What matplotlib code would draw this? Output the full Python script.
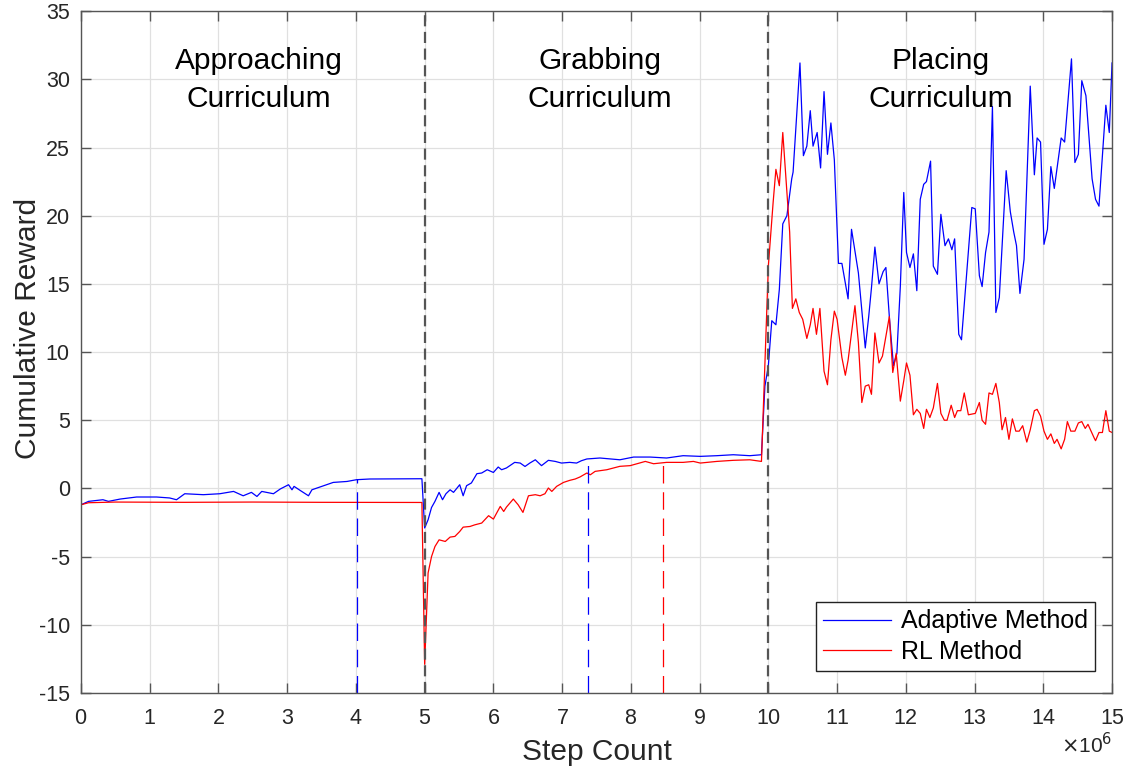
import matplotlib
matplotlib.use("Agg")
import matplotlib.pyplot as plt
from matplotlib.ticker import ScalarFormatter

plt.rcParams['font.family'] = ['Liberation Sans', 'DejaVu Sans']
plt.rcParams['axes.unicode_minus'] = False

# step counts in millions, rewards
adaptive_x = [0.0, 0.11, 0.32, 0.40, 0.57, 0.81, 1.10, 1.29, 1.39, 1.51, 1.78, 2.02, 2.22, 2.36,
              2.48, 2.56, 2.63, 2.80, 2.90, 3.02, 3.07, 3.10, 3.19, 3.31, 3.36, 3.53, 3.67, 3.87,
              4.01, 4.20, 4.96,
              5.00, 5.05, 5.10, 5.15, 5.21, 5.26, 5.31, 5.37, 5.42, 5.51, 5.56, 5.61, 5.68, 5.76,
              5.83, 5.91, 6.00, 6.07, 6.12, 6.19, 6.31, 6.39, 6.46, 6.53, 6.61, 6.70, 6.80, 6.90,
              6.99, 7.11, 7.21, 7.28, 7.36, 7.55, 7.70, 7.84, 8.04, 8.28, 8.52, 8.76, 9.01, 9.25,
              9.49, 9.73, 9.90,
              9.95, 10.00, 10.05, 10.11, 10.16, 10.21, 10.27, 10.34, 10.36, 10.46, 10.51, 10.56,
              10.61, 10.65, 10.71, 10.76, 10.81, 10.86, 10.91, 10.96, 11.02, 11.07, 11.16, 11.21,
              11.31, 11.41, 11.46, 11.50, 11.55, 11.61, 11.67, 11.71, 11.76, 11.82, 11.87, 11.92,
              11.97, 12.01, 12.06, 12.11, 12.16, 12.21, 12.26, 12.30, 12.36, 12.40, 12.46, 12.51,
              12.57, 12.62, 12.67, 12.71, 12.77, 12.81, 12.96, 13.01, 13.07, 13.11, 13.16, 13.21,
              13.26, 13.31, 13.36, 13.46, 13.52, 13.57, 13.61, 13.66, 13.72, 13.81, 13.87, 13.91,
              13.96, 14.01, 14.06, 14.11, 14.16, 14.26, 14.31, 14.41, 14.46, 14.51, 14.56, 14.62,
              14.71, 14.76, 14.81, 14.91, 14.96, 15.00]
adaptive_y = [-1.2, -0.95, -0.83, -0.95, -0.78, -0.63, -0.63, -0.70, -0.83, -0.39, -0.46, -0.39,
              -0.22, -0.54, -0.29, -0.59, -0.22, -0.39, -0.04, 0.27, -0.10, 0.15, -0.15, -0.54,
              -0.10, 0.20, 0.44, 0.51, 0.64, 0.69, 0.71,
              -2.9, -2.3, -1.4, -0.95, -0.29, -0.83, -0.39, -0.10, -0.29, 0.27, -0.54, 0.20, 0.40,
              1.08, 1.13, 1.37, 1.17, 1.57, 1.37, 1.50, 1.91, 1.86, 1.61, 1.86, 2.10, 1.67, 2.06,
              1.98, 1.86, 1.91, 1.86, 2.03, 2.16, 2.23, 2.16, 2.10, 2.30, 2.30, 2.23, 2.40, 2.35,
              2.40, 2.47, 2.40, 2.47,
              7.5, 9.0, 12.3, 12.0, 14.6, 19.4, 20.0, 22.7, 23.2, 31.2, 24.4, 25.1, 27.7, 25.1,
              26.1, 23.5, 29.1, 24.5, 26.8, 24.1, 16.5, 16.5, 13.9, 19.0, 15.8, 10.3, 12.6, 14.7,
              17.7, 15.0, 15.9, 16.2, 12.6, 9.0, 9.9, 14.8, 21.7, 17.3, 16.2, 17.2, 14.5, 21.2,
              22.3, 22.5, 24.0, 16.3, 15.7, 20.1, 17.8, 18.3, 17.5, 18.3, 11.3, 10.9, 20.6, 20.5,
              15.6, 14.8, 17.3, 18.8, 28.0, 12.9, 14.0, 23.3, 20.3, 18.8, 17.8, 14.3, 16.8, 29.5,
              23.0, 25.7, 25.4, 17.9, 19.0, 23.6, 22.0, 25.7, 25.4, 31.5, 23.9, 24.5, 29.9, 28.8,
              22.7, 21.2, 20.7, 28.1, 26.1, 31.2]

rl_x = [0.0, 0.11, 0.5, 1.5, 2.5, 3.5, 4.5, 4.96,
        5.00, 5.05, 5.10, 5.15, 5.21, 5.30, 5.37, 5.44, 5.51, 5.56, 5.66, 5.73, 5.83, 5.93, 6.00,
        6.10, 6.15, 6.19, 6.29, 6.36, 6.43, 6.51, 6.61, 6.68, 6.75, 6.80, 6.85, 6.92, 7.02, 7.11,
        7.19, 7.26, 7.36, 7.41, 7.48, 7.65, 7.84, 7.99, 8.09, 8.21, 8.33, 8.52, 8.76, 8.91, 9.01,
        9.25, 9.49, 9.73, 9.90,
        10.00, 10.07, 10.11, 10.16, 10.21, 10.31, 10.35, 10.40, 10.45, 10.50, 10.56, 10.61,
        10.65, 10.70, 10.75, 10.81, 10.86, 10.91, 10.96, 11.00, 11.07, 11.12, 11.16, 11.26,
        11.31, 11.36, 11.41, 11.46, 11.50, 11.55, 11.61, 11.66, 11.76, 11.81, 11.86, 11.92,
        11.97, 12.01, 12.06, 12.11, 12.16, 12.21, 12.26, 12.30, 12.35, 12.40, 12.46, 12.51,
        12.56, 12.60, 12.66, 12.71, 12.75, 12.80, 12.85, 12.91, 13.01, 13.07, 13.11, 13.16,
        13.21, 13.26, 13.31, 13.36, 13.40, 13.45, 13.50, 13.55, 13.60, 13.65, 13.70, 13.76,
        13.81, 13.87, 13.91, 13.96, 14.01, 14.06, 14.11, 14.16, 14.20, 14.26, 14.31, 14.35,
        14.40, 14.46, 14.51, 14.56, 14.61, 14.65, 14.74, 14.76, 14.81, 14.86, 14.91, 14.96, 15.00]
rl_y = [-1.2, -1.05, -1.0, -1.02, -1.0, -1.02, -1.03, -1.03,
        -12.9, -6.2, -5.0, -4.26, -3.77, -3.89, -3.57, -3.52, -3.16, -2.84, -2.79, -2.67, -2.54,
        -2.0, -2.25, -1.32, -1.69, -1.37, -0.78, -1.2, -1.76, -0.54, -0.46, -0.54, -0.39, 0.03,
        -0.22, 0.15, 0.44, 0.59, 0.69, 0.84, 1.13, 1.0, 1.25, 1.37, 1.62, 1.67, 1.81, 1.98,
        1.81, 1.91, 1.91, 1.98, 1.86, 1.98, 2.06, 2.10, 1.98,
        16.3, 21.0, 23.4, 22.2, 26.1, 18.8, 13.2, 13.9, 12.9, 12.4, 11.0, 12.0, 13.2, 11.3,
        13.2, 8.6, 7.6, 10.9, 13.0, 12.4, 9.6, 8.3, 9.4, 13.4, 10.7, 6.3, 7.5, 7.6, 6.9, 11.4,
        9.2, 9.7, 12.6, 8.5, 9.9, 6.4, 7.9, 9.2, 8.3, 5.4, 5.8, 5.5, 4.4, 5.8, 5.2, 5.9, 7.7,
        5.5, 5.0, 5.0, 6.1, 5.2, 5.7, 5.7, 7.0, 5.4, 5.5, 6.3, 5.0, 4.7, 7.0, 6.9, 7.7, 6.3,
        4.3, 5.2, 3.6, 5.1, 4.2, 4.2, 4.6, 3.4, 4.3, 5.7, 5.8, 5.3, 4.2, 3.6, 4.0, 3.3, 3.6,
        2.9, 3.6, 4.9, 4.2, 4.2, 4.8, 4.9, 4.4, 4.7, 3.7, 3.5, 4.1, 4.1, 5.7, 4.2, 4.1]

phase_bounds = [5, 10]
phase_names = ["Approaching\nCurriculum", "Grabbing\nCurriculum", "Placing\nCurriculum"]
phase_label_x = [2.59, 7.55, 12.51]
# (step, reward at the top of the marker)
adaptive_marks = [(4.02, 0.69), (7.38, 2.16)]
rl_marks = [(8.47, 1.86)]

fig = plt.figure(figsize=(11.26, 7.68), dpi=100)
ax = fig.add_axes((0.0719, 0.0977, 0.9157, 0.8878))

M = 1e6
ax.plot([v * M for v in adaptive_x], adaptive_y, color='#0000ff', lw=0.9, label='Adaptive Method')
ax.plot([v * M for v in rl_x], rl_y, color='#ff0000', lw=0.9, label='RL Method')

for b in phase_bounds:
    ax.axvline(b * M, color='#555555', lw=1.6, dashes=(5, 2.5))
for x, top in adaptive_marks:
    ax.plot([x * M, x * M], [-15, top], color='#0000ff', lw=0.9, dashes=(14, 7))
for x, top in rl_marks:
    ax.plot([x * M, x * M], [-15, top], color='#ff0000', lw=0.9, dashes=(14, 7))

for name, x in zip(phase_names, phase_label_x):
    ax.text(x * M, 29.95, name, ha='center', va='center', fontsize=21.5, linespacing=1.45)

ax.set_xlim(0, 15 * M)
ax.set_ylim(-15, 35)
ax.set_xticks([i * M for i in range(16)])
ax.set_yticks(range(-15, 36, 5))
fmt = ScalarFormatter(useMathText=True)
fmt.set_powerlimits((6, 6))
ax.xaxis.set_major_formatter(fmt)
ax.xaxis.get_offset_text().set_visible(False)
fig.text(0.988, 0.03, r'$\times$10$^6$', ha='right', va='center', fontsize=15, color='#262626')

ax.grid(True, color='#e0e0e0', lw=0.9)
ax.set_axisbelow(True)
ax.tick_params(direction='in', length=7, width=1, color='#555555', labelsize=15.5,
               labelcolor='#262626', top=True, right=True)
ax.tick_params(axis='x', pad=11)
ax.tick_params(axis='y', pad=8)
for s in ax.spines.values():
    s.set_color('#555555')
    s.set_linewidth(1)

ax.set_xlabel('Step Count', fontsize=21.5, color='#262626', labelpad=6)
ax.set_ylabel('Cumulative Reward', fontsize=21.5, color='#262626')
ax.yaxis.set_label_coords(-0.038, 0.535)

leg = ax.legend(loc='lower right', bbox_to_anchor=(0.9835, 0.032), fontsize=18, fancybox=False,
                framealpha=1, edgecolor='#222222', handlelength=2.7, borderpad=0.3,
                labelspacing=0.25, handletextpad=0.4, borderaxespad=0)
leg.get_frame().set_linewidth(1)

fig.savefig('out.png', dpi=100)
